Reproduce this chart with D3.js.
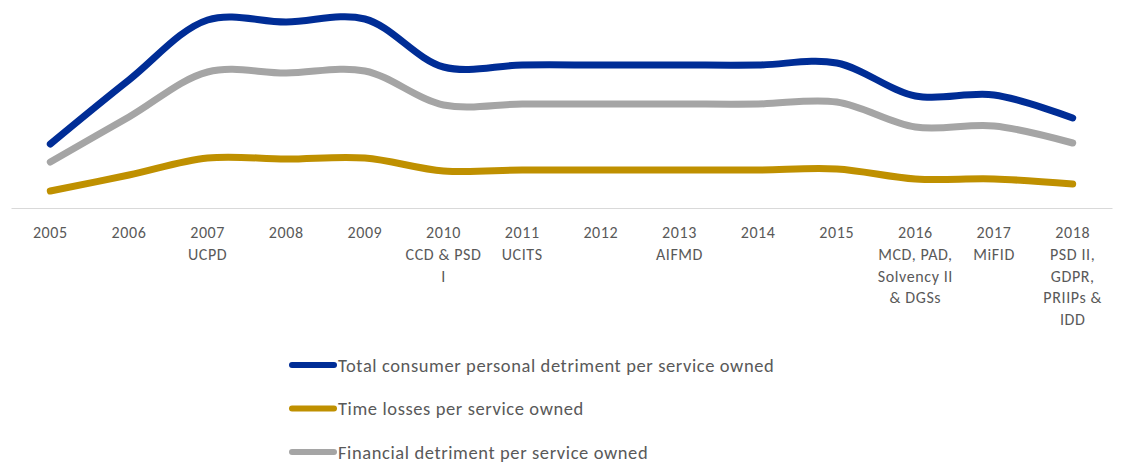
<!DOCTYPE html>
<html>
<head>
<meta charset="utf-8">
<script src="https://cdn.jsdelivr.net/npm/d3@7/dist/d3.min.js"></script>
<style>
  html, body { margin: 0; padding: 0; background: #fff; }
  svg { display: block; }
  text { font-family: Carlito, Calibri, Lato, "Open Sans", sans-serif; fill: #595959; }
</style>
</head>
<body>
<svg id="chart" width="1121" height="465"></svg>
<script>
// Years on the category axis and the EU legislation introduced in each year
const years = ["2005", "2006", "2007", "2008", "2009", "2010", "2011", "2012", "2013", "2014", "2015", "2016", "2017", "2018"];
const directives = [
  [], [], ["UCPD"], [], [], ["CCD & PSD", "I"], ["UCITS"], [], ["AIFMD"], [], [],
  ["MCD, PAD,", "Solvency II", "& DGSs"], ["MiFID"], ["PSD II,", "GDPR,", "PRIIPs &", "IDD"]
];

// Detriment per service owned (index units)
const totalDetriment     = [64, 128, 188, 186, 189, 141, 143, 143, 143, 143, 145, 112, 113, 90];
const timeLosses         = [17, 33, 50, 49, 50, 37, 38, 38, 38, 38, 39, 29, 29, 24];
const financialDetriment = [46, 91, 136, 135, 137, 103, 104, 104, 104, 104, 106, 81, 82, 65];

const seriesNames  = ["Total consumer personal detriment per service owned", "Time losses per service owned", "Financial detriment per service owned"];
const seriesValues = [totalDetriment, timeLosses, financialDetriment];
const seriesColors = ["#002D96", "#BF9000", "#A5A5A5"];

const svg = d3.select("#chart");

const x = d3.scaleBand().domain(years).range([11, 1112]).padding(0);
const y = d3.scaleLinear().domain([0, 200]).range([208, 8]);

// Category axis
const axis = svg.append("g").attr("transform", "translate(0,208)")
  .call(d3.axisBottom(x).tickSize(0).tickFormat(""));
axis.select(".domain").attr("stroke", "#D9D9D9").attr("stroke-width", 1);

const tickGroups = svg.append("g").selectAll("g.tk")
  .data(years)
  .join("g")
  .attr("class", "tk")
  .attr("transform", d => `translate(${x(d) + x.bandwidth() / 2},0)`);

tickGroups.selectAll("text")
  .data((d, i) => [d].concat(directives[i]))
  .join("text")
  .attr("text-anchor", "middle")
  .attr("y", (d, i) => 238 + i * 21.8)
  .style("font-size", "16px")
  .style("letter-spacing", "0.6px")
  .text(d => d);

// Smoothed series lines
const line = d3.line()
  .x((d, i) => x(years[i]) + x.bandwidth() / 2)
  .y(d => y(d))
  .curve(d3.curveCatmullRom.alpha(0.5));

svg.append("g").selectAll("path")
  .data(seriesValues)
  .join("path")
  .attr("d", d => line(d))
  .attr("fill", "none")
  .attr("stroke", (d, i) => seriesColors[i])
  .attr("stroke-width", 7)
  .attr("stroke-linecap", "round")
  .attr("stroke-linejoin", "round");

// Legend
const legend = svg.append("g").selectAll("g")
  .data(seriesNames)
  .join("g")
  .attr("transform", (d, i) => `translate(0,${365 + i * 43.5})`);

legend.append("line")
  .attr("x1", 292).attr("x2", 334)
  .attr("stroke", (d, i) => seriesColors[i])
  .attr("stroke-width", 6)
  .attr("stroke-linecap", "round");

legend.append("text")
  .attr("x", 338)
  .attr("y", 6.5)
  .style("font-size", "18.5px")
  .style("letter-spacing", "0.6px")
  .text(d => d);
</script>
</body>
</html>
